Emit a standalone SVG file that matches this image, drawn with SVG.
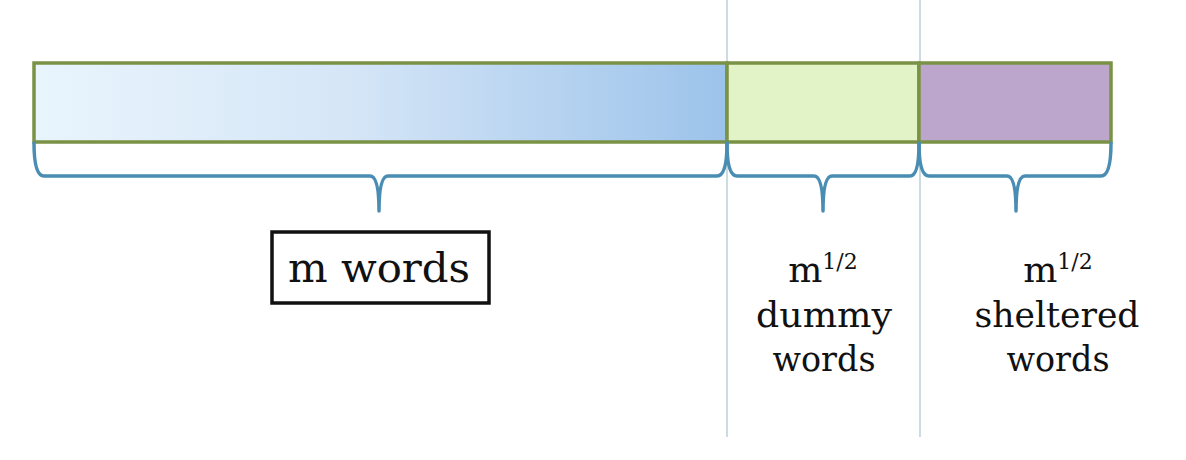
<svg xmlns="http://www.w3.org/2000/svg" width="1186" height="460" viewBox="0 0 1186 460">
<style>
.bar{stroke:#7a9245;stroke-width:3.5}
.brace{fill:none;stroke:#4a8db3;stroke-width:3.5;stroke-linejoin:round;stroke-linecap:round}
.guide{stroke:#a9c4cc;stroke-width:1.2}
.lbl{font-family:"DejaVu Serif","Liberation Serif",serif;font-size:36px;fill:#111;text-anchor:middle}
.sup{font-size:22px}
</style>
<defs>
<linearGradient id="g1" x1="0" y1="0" x2="1" y2="0">
<stop offset="0" stop-color="#e9f5fd"/>
<stop offset="0.45" stop-color="#d6e6f7"/>
<stop offset="1" stop-color="#9cc3ea"/>
</linearGradient>
</defs>
<g id="guides">
<line class="guide" x1="727" y1="0" x2="727" y2="437"/>
<line class="guide" x1="920" y1="0" x2="920" y2="437"/>
</g>
<g id="seg-m">
<rect class="bar" x="34" y="63" width="693" height="79" fill="url(#g1)"/>
</g>
<g id="seg-dummy">
<rect class="bar" x="727" y="63" width="192" height="79" fill="#e3f3c8"/>
</g>
<g id="seg-sheltered">
<rect class="bar" x="919" y="63" width="192" height="79" fill="#bca6cb"/>
</g>
<g id="connectors">
<path class="brace" d="M34,143 Q34,176 44,176 L370,176 Q379,176 379,211 Q379,176 388,176 L717,176 Q727,176 727,143"/>
<path class="brace" d="M727,143 Q727,176 737,176 L814,176 Q823,176 823,211 Q823,176 832,176 L910,176 Q919,176 919,143"/>
<path class="brace" d="M919,143 Q919,176 929,176 L1007,176 Q1016,176 1016,211 Q1016,176 1025,176 L1101,176 Q1111,176 1111,143"/>
</g>
<g id="label-m">
<rect x="272" y="232" width="217" height="71" fill="#fff" stroke="#111" stroke-width="3.5"/>
<text class="lbl" x="379" y="282" style="font-size:41px" textLength="182" lengthAdjust="spacingAndGlyphs">m words</text>
</g>
<g id="label-dummy">
<text class="lbl" x="823" y="282">m<tspan class="sup" dy="-13">1/2</tspan></text>
<text class="lbl" x="824" y="327" textLength="136" lengthAdjust="spacingAndGlyphs">dummy</text>
<text class="lbl" x="824" y="371" textLength="103" lengthAdjust="spacingAndGlyphs">words</text>
</g>
<g id="label-sheltered">
<text class="lbl" x="1058" y="282">m<tspan class="sup" dy="-13">1/2</tspan></text>
<text class="lbl" x="1057" y="327" textLength="165" lengthAdjust="spacingAndGlyphs">sheltered</text>
<text class="lbl" x="1058" y="371" textLength="103" lengthAdjust="spacingAndGlyphs">words</text>
</g>
</svg>
